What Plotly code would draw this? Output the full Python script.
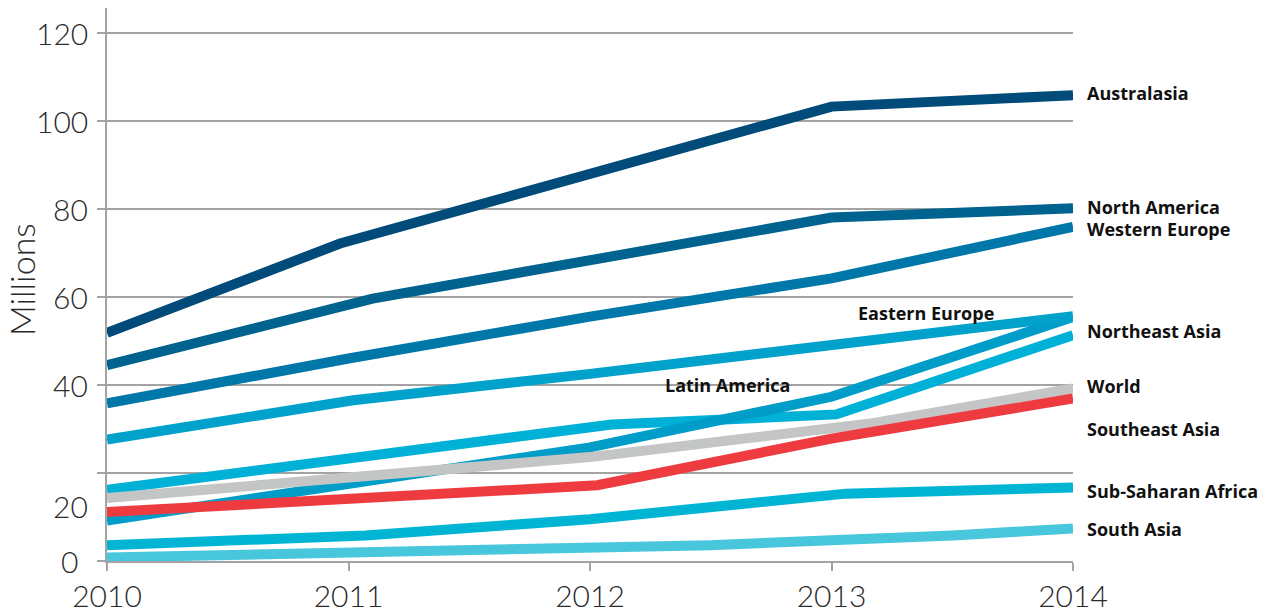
import plotly.graph_objects as go

# Series: year positions and values (millions)
aus_x = [2010, 2010.965, 2013, 2014]
aus_y = [51.8, 72.1, 103.2, 105.8]

nam_x = [2010, 2011.10, 2013, 2014]
nam_y = [44.5, 59.6, 78.0, 80.1]

weu_x = [2010, 2011, 2012, 2012.45, 2013, 2014]
weu_y = [35.8, 46.0, 55.5, 59.2, 64.2, 75.9]

eeu_x = [2010, 2011.02, 2012, 2012.79, 2014]
eeu_y = [27.6, 36.5, 42.5, 47.6, 55.6]

lat_x = [2010, 2012, 2013, 2014]
lat_y = [9.2, 25.8, 37.3, 55.4]

nea_x = [2010, 2012.09, 2013.02, 2014]
nea_y = [16.2, 31.0, 33.3, 51.3]

wld_x = [2010, 2012, 2013.17, 2014]
wld_y = [14.3, 23.6, 31.3, 39.2]

sea_x = [2010, 2012.03, 2013, 2014]
sea_y = [11.1, 17.2, 27.8, 36.9]

ssa_x = [2010, 2011.07, 2012, 2012.45, 2013.06, 2014]
ssa_y = [3.6, 5.8, 9.5, 11.9, 15.3, 16.7]

sas_x = [2010, 2012, 2012.5, 2013.5, 2014]
sas_y = [0.8, 2.8, 3.6, 5.8, 7.4]

years = [2010, 2011, 2012, 2013, 2014]
y_grid = [0, 20, 40, 60, 80, 100, 120]
y_labels = ["120", "100", "80", "60", "40", "20", "0"]
y_label_pos = [120, 100, 80, 60, 40, 12.5, 0]

# drawing order: first drawn sits underneath
series = [
    ("Northeast Asia", nea_x, nea_y, "#00b1d7"),
    ("Latin America", lat_x, lat_y, "#009dc8"),
    ("Eastern Europe", eeu_x, eeu_y, "#00a1ca"),
    ("Western Europe", weu_x, weu_y, "#0077a9"),
    ("North America", nam_x, nam_y, "#00628f"),
    ("Australasia", aus_x, aus_y, "#004b79"),
    ("South Asia", sas_x, sas_y, "#48c6db"),
    ("Sub-Saharan Africa", ssa_x, ssa_y, "#00b5d3"),
    ("World", wld_x, wld_y, "#c4c6c5"),
    ("Southeast Asia", sea_x, sea_y, "#ee3b40"),
]

# end labels to the right of the plot (label, y value)
end_labels = [
    ("Australasia", 106.3),
    ("North America", 80.4),
    ("Western Europe", 75.5),
    ("Northeast Asia", 52.3),
    ("World", 39.7),
    ("Southeast Asia", 29.9),
    ("Sub-Saharan Africa", 15.8),
    ("South Asia", 7.2),
]
# labels placed inside the plot (label, x, y)
inline_labels = [
    ("Eastern Europe", 2013.39, 56.3),
    ("Latin America", 2012.57, 39.9),
]

fig = go.Figure()
for name, xs, ys, color in series:
    fig.add_trace(go.Scatter(
        x=xs, y=ys, mode="lines", name=name,
        line=dict(color=color, width=10),
        hoverinfo="name+y", showlegend=False,
    ))

LIGHT = dict(family="Lato, 'Open Sans', sans-serif", size=30, color="#2a2a2a", weight=300)
BOLD = dict(family="'Open Sans', Lato, sans-serif", size=18, color="#111111", weight=700)

annotations = []
for txt, val in end_labels:
    annotations.append(dict(
        text=txt, x=1, xref="paper", y=val, yref="y",
        xanchor="left", yanchor="middle", xshift=12,
        showarrow=False, font=BOLD,
    ))
for txt, xv, yv in inline_labels:
    annotations.append(dict(
        text=txt, x=xv, xref="x", y=yv, yref="y",
        xanchor="center", yanchor="middle",
        showarrow=False, font=BOLD,
    ))
for txt, val in zip(y_labels, y_label_pos):
    annotations.append(dict(
        text=txt, x=0, xref="paper", y=val, yref="y",
        xanchor="right", yanchor="middle",
        xshift=-17 if txt != "0" else -27,
        showarrow=False, font=LIGHT,
    ))
annotations.append(dict(
    text="Millions", x=0, xref="paper", y=0.508, yref="paper",
    xanchor="center", yanchor="middle", xshift=-86, textangle=-90,
    showarrow=False, font=dict(LIGHT, size=34),
))

fig.update_layout(
    width=1279, height=612,
    margin=dict(l=107, r=206, t=8, b=51, autoexpand=False),
    paper_bgcolor="white", plot_bgcolor="white",
    annotations=annotations,
    xaxis=dict(
        range=[2010, 2014], tickvals=years, ticktext=[str(y) for y in years],
        showgrid=False, zeroline=False, automargin=False,
        showline=True, linecolor="#a3a3a3", linewidth=1.5,
        ticks="outside", ticklen=8, tickwidth=1.5, tickcolor="#a3a3a3",
        tickfont=LIGHT, layer="below traces",
    ),
    yaxis=dict(
        range=[0, 125.6], tickvals=y_grid, showticklabels=False,
        showgrid=True, gridcolor="#a3a3a3", gridwidth=1.5, zeroline=False,
        automargin=False,
        showline=True, linecolor="#a3a3a3", linewidth=1.5,
        ticks="outside", ticklen=8, tickwidth=1.5, tickcolor="#a3a3a3",
        layer="below traces",
    ),
)

fig.write_html("out.html")
